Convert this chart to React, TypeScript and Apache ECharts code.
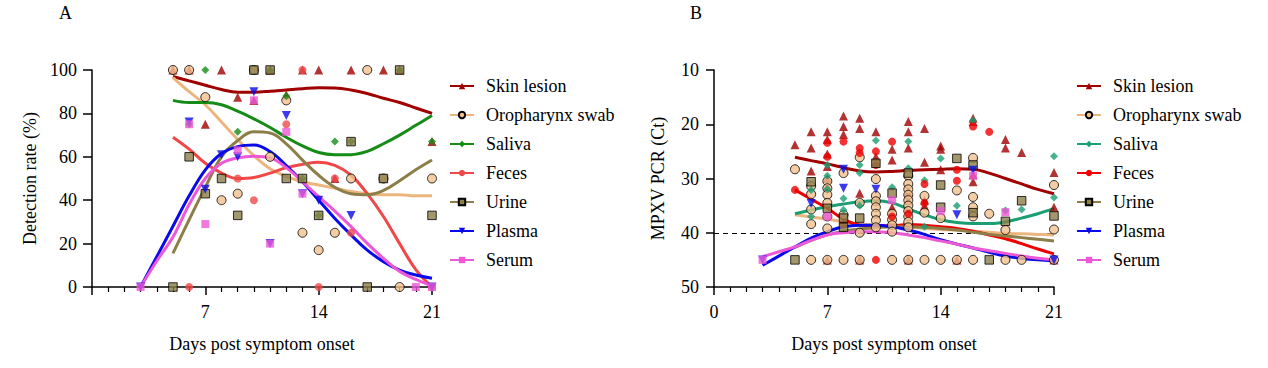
import React, { useEffect, useRef } from "react";
import * as echarts from "echarts";

const FONT = "Liberation Serif";

// ---------- shared ----------
const seriesNames = ["Skin lesion", "Oropharynx swab", "Saliva", "Feces", "Urine", "Plasma", "Serum"];
const days5 = [5, 6, 7, 8, 9, 10, 11, 12, 13, 14, 15, 16, 17, 18, 19, 20, 21];
const days3 = [3, 4, 5, 6, 7, 8, 9, 10, 11, 12, 13, 14, 15, 16, 17, 18, 19, 20, 21];

// ---------- Panel A: detection rate (%) ----------
const skinCurveA = [97, 95, 93, 91, 89.8, 89.8, 90.2, 90.8, 91.4, 91.8, 91.7, 90.8, 89.2, 87, 85, 82.5, 80];
const oroCurveA = [96.5, 90, 84, 76, 68, 60.5, 54.5, 51, 48.5, 47, 45.5, 44, 43, 42.5, 42.5, 42, 42];
const salivaCurveA = [86, 85, 85, 84, 81, 77.5, 73.5, 69, 65, 62, 61, 61, 62.5, 66, 70, 74.5, 79];
const fecesCurveA = [69, 63.5, 57, 52.5, 50, 50.5, 52.5, 55, 56.5, 57.5, 56, 51.5, 43, 32.5, 20, 8, 0];
const urineCurveA = [15.5, 31, 46, 60, 67.5, 71.5, 71, 66, 58.5, 51.5, 46, 43, 42.5, 44.5, 49, 54, 58.5];
const plasmaCurveA = [0, 14, 28, 42, 54, 61.5, 64.7, 65.4, 62.4, 56, 48.5, 40, 31.6, 24, 17, 11.7, 7.8, 5.5, 4];
const serumCurveA = [0, 12, 23, 38, 50, 57, 59.5, 60.3, 59.5, 55, 48.5, 41.6, 35, 27.8, 20.1, 13.2, 7.2, 3.5, 0.6];

const skinPtsA = [[5, 100], [6, 100], [7, 75], [8, 100], [9, 87.5], [10, 86], [11, 100], [12, 88.5], [13, 100], [14, 100], [15, 50], [16, 100], [18, 100], [19, 100], [21, 67]];
const oroPtsA = [[5, 100], [6, 100], [7, 87.5], [8, 40], [9, 43], [10, 100], [11, 60], [12, 86], [13, 25], [14, 17], [15, 25], [16, 50], [17, 100], [18, 50], [19, 0], [21, 50]];
const salivaPtsA = [[6, 75], [7, 100], [9, 71.5], [11, 100], [12, 88], [13, 50], [14, 33], [15, 67], [16, 67], [19, 100], [21, 67]];
const fecesPtsA = [[6, 0], [9, 50], [10, 40], [12, 75], [13, 100], [14, 0], [15, 50], [16, 25], [21, 0]];
const urinePtsA = [[5, 0], [6, 60], [7, 43], [8, 50], [9, 33], [10, 100], [11, 100], [12, 50], [13, 50], [14, 33], [16, 67], [17, 0], [18, 50], [19, 100], [21, 33]];
const plasmaPtsA = [[3, 0], [6, 76], [7, 45], [8, 61], [9, 60], [10, 90], [11, 20], [12, 79], [13, 43], [14, 40], [16, 33], [21, 0]];
const serumPtsA = [[3, 0], [6, 75], [7, 29], [9, 63], [10, 86], [11, 20], [12, 71.5], [13, 43], [20, 0], [21, 0]];

// ---------- Panel B: MPXV PCR (Ct) ----------
const skinCurveB = [26.1, 26.7, 27.3, 28, 28.6, 28.8, 28.7, 28.5, 28.4, 28.3, 28.2, 28.3, 29, 30, 31, 32, 32.8];
const oroCurveB = [36.7, 37.1, 37.5, 38, 38.4, 38.6, 38.8, 39, 39.2, 39.4, 39.5, 39.7, 39.9, 40.1, 40.2, 40.3, 40.4];
const salivaCurveB = [36.5, 35.8, 35.2, 34.7, 34.3, 34.1, 34.5, 35.6, 36.7, 37.6, 38.1, 38.3, 38.3, 38, 37.3, 36.5, 35.5];
const fecesCurveB = [32.1, 33.8, 35.5, 37.5, 38.6, 38.8, 38.7, 38.5, 38.6, 38.9, 39.2, 39.7, 40.4, 41.1, 42, 43, 43.9];
const urineCurveB = [42.7, 41.4, 40.4, 39.7, 39.3, 39.1, 38.9, 38.9, 39, 39.2, 39.5, 39.9, 40.3, 40.6, 40.9, 41.2, 41.5];
const plasmaCurveB = [46, 44.3, 42.6, 41, 39.8, 38.9, 38.6, 38.6, 38.9, 39.5, 40.3, 41.3, 42.1, 42.8, 43.6, 44.3, 44.7, 45, 45.2];
const serumCurveB = [44.4, 43.5, 42.6, 41.4, 40.4, 40, 39.8, 39.8, 40, 40.4, 40.9, 41.5, 42.1, 42.8, 43.3, 43.8, 44.3, 44.7, 45];

const skinPtsB = [[5, 23.8], [6, 21.4], [6, 24.4], [6, 28.6], [7, 21.4], [7, 22.8], [7, 25.5], [7, 27.8], [7, 30], [7, 31.5], [7, 45], [8, 18.5], [8, 20.4], [8, 21.9], [9, 18.9], [9, 20.8], [9, 32.7], [9, 45], [10, 21.4], [10, 26], [11, 24.6], [11, 26.6], [11, 35.3], [12, 19.5], [12, 21.4], [12, 24.4], [12, 32.5], [12, 34], [12, 45], [13, 20.8], [13, 27], [13, 34], [13, 35], [14, 24], [14, 24.6], [14, 28.4], [15, 45], [16, 18.9], [16, 19.5], [16, 29.3], [16, 30.6], [18, 22.8], [18, 24.4], [19, 25.2], [21, 28.9], [21, 35.3], [21, 45]];
const oroPtsB = [[5, 28.3], [6, 31.4], [6, 32.9], [6, 35.7], [6, 38.4], [6, 45], [7, 30.5], [7, 31.8], [7, 33], [7, 34.5], [7, 37], [7, 39.2], [7, 45], [8, 29], [8, 36.7], [8, 45], [9, 26.1], [9, 34.5], [9, 40], [9, 45], [10, 30.1], [10, 33.2], [10, 34.2], [10, 35.3], [10, 36.5], [10, 37.7], [10, 39], [11, 36.5], [11, 37.6], [11, 38.6], [11, 39.8], [11, 45], [12, 29.5], [12, 31], [12, 32], [12, 33], [12, 34], [12, 35], [12, 36], [12, 37], [12, 38], [12, 39], [12, 45], [13, 33.2], [13, 36.3], [13, 45], [14, 37.3], [14, 45], [15, 32.2], [15, 45], [16, 26.2], [16, 33.4], [16, 35.3], [16, 37], [16, 45], [17, 36.5], [18, 39.5], [18, 45], [19, 45], [21, 31.2], [21, 39.4], [21, 45]];
const salivaPtsB = [[6, 32.1], [6, 37], [7, 27.5], [7, 29.5], [7, 32], [8, 33.7], [8, 35.8], [9, 27.5], [9, 29], [9, 35], [10, 23], [10, 27.5], [11, 31.6], [12, 23.2], [12, 28.1], [13, 30.3], [13, 38.9], [14, 26.3], [15, 35], [16, 19.3], [18, 35.9], [19, 35.7], [21, 25.9], [21, 33.5]];
const fecesPtsB = [[5, 32.1], [7, 23.4], [7, 26], [8, 23.2], [8, 38.4], [9, 24.4], [9, 25.3], [10, 25], [10, 27.5], [10, 45], [11, 23.2], [11, 37], [12, 36.5], [13, 31], [13, 34.5], [15, 28.4], [15, 30.4], [16, 20.4], [17, 21.4]];
const urinePtsB = [[5, 45], [6, 30.6], [7, 35.5], [8, 37.3], [8, 39], [9, 37.3], [10, 27.2], [11, 32.7], [12, 29], [14, 31.2], [14, 35.3], [15, 26.3], [16, 27.5], [16, 36.3], [17, 45], [18, 37.9], [19, 34.1], [21, 36.9]];
const plasmaPtsB = [[3, 45], [6, 34.6], [8, 28.3], [8, 31.8], [10, 32], [15, 36.7], [16, 28.5], [21, 45]];
const serumPtsB = [[3, 45], [7, 37], [11, 34], [14, 36], [16, 29.5], [18, 36.2]];

const ctThreshold = 40;

// ---------- styles ----------
type Sty = { line: string; fill: string; symbol: string; size: number; border?: string; rotate?: number };
const stylesA: Sty[] = [
  { line: "#A00000", fill: "#A00000", symbol: "triangle", size: 9 },
  { line: "#EDB57E", fill: "#F2C08E", symbol: "circle", size: 9, border: "#000" },
  { line: "#158C15", fill: "#158C15", symbol: "diamond", size: 8 },
  { line: "#F04848", fill: "#F04848", symbol: "circle", size: 8 },
  { line: "#8C7E48", fill: "#8C7E48", symbol: "rect", size: 8.5, border: "#000" },
  { line: "#0A0AE8", fill: "#0A0AE8", symbol: "triangle", size: 9, rotate: 180 },
  { line: "#EC58D6", fill: "#EC58D6", symbol: "rect", size: 8 },
];
const stylesB: Sty[] = stylesA.map((s, i) =>
  i === 2 ? { ...s, line: "#1A9E72", fill: "#1A9E72" } : i === 3 ? { ...s, line: "#F00000", fill: "#F00000" } : s
);

function zip(days: number[], vals: number[]) {
  return vals.map((v, i) => [days[i], v]);
}

function buildOption(panel: "A" | "B") {
  const isA = panel === "A";
  const styles = isA ? stylesA : stylesB;
  const curves = isA
    ? [skinCurveA, oroCurveA, salivaCurveA, fecesCurveA, urineCurveA, plasmaCurveA, serumCurveA]
    : [skinCurveB, oroCurveB, salivaCurveB, fecesCurveB, urineCurveB, plasmaCurveB, serumCurveB];
  const pts = isA
    ? [skinPtsA, oroPtsA, salivaPtsA, fecesPtsA, urinePtsA, plasmaPtsA, serumPtsA]
    : [skinPtsB, oroPtsB, salivaPtsB, fecesPtsB, urinePtsB, plasmaPtsB, serumPtsB];

  const itemStyleOf = (s: Sty) => ({
    color: s.fill,
    borderColor: s.border || s.fill,
    borderWidth: s.border ? 1 : 0,
  });

  const lineSeries = seriesNames.map((name, i) => {
    const s = styles[i];
    const d = curves[i].length === days3.length ? days3 : days5;
    return {
      name,
      type: "line",
      data: zip(d, curves[i]),
      smooth: 0.4,
      showSymbol: false,
      symbol: s.symbol,
      symbolSize: s.size,
      symbolRotate: s.rotate || 0,
      lineStyle: { color: s.line, width: 3 },
      itemStyle: itemStyleOf(s),
      z: 2,
      silent: true,
    };
  });
  const scatterSeries = seriesNames.map((name, i) => {
    const s = styles[i];
    const base: any = {
      name,
      type: "scatter",
      data: pts[i],
      symbol: s.symbol,
      symbolSize: s.size,
      symbolRotate: s.rotate || 0,
      itemStyle: itemStyleOf(s),
      z: 3,
      silent: true,
    };
    if (!isA && i === 0) {
      base.markLine = {
        silent: true,
        symbol: "none",
        label: { show: false },
        lineStyle: { color: "#000", type: [5, 4], width: 1.2 },
        data: [{ yAxis: ctThreshold }],
        z: 1,
      };
    }
    return base;
  });

  const axisLine = { show: true, onZero: false, lineStyle: { color: "#000", width: 1.5 } };
  const labelStyle = { fontFamily: FONT, fontSize: 18, color: "#000" };

  return {
    animation: false,
    backgroundColor: "#fff",
    grid: { left: isA ? 92 : 80, top: 70, width: 340, height: 217 },
    graphic: [
      {
        type: "text",
        left: isA ? 59 : 56,
        top: 4,
        style: { text: panel, font: `18px "${FONT}"`, fill: "#000" },
      },
    ],
    legend: {
      orient: "vertical",
      left: isA ? 449 : 442,
      top: 77,
      padding: 0,
      itemWidth: 24,
      itemHeight: 8,
      itemGap: 11,
      selectedMode: false,
      data: seriesNames,
      textStyle: { fontFamily: FONT, fontSize: 18, color: "#000", lineHeight: 18, padding: [0, 0, 0, 7] },
    },
    xAxis: {
      type: "value",
      min: 0,
      max: 21,
      interval: 7,
      name: "Days post symptom onset",
      nameLocation: "middle",
      nameGap: 48,
      nameTextStyle: labelStyle,
      axisLine,
      axisTick: { show: true, length: 8, lineStyle: { color: "#000", width: 1.5 } },
      minorTick: { show: true, splitNumber: 7, length: 5, lineStyle: { color: "#000", width: 1.2 } },
      splitLine: { show: false },
      minorSplitLine: { show: false },
      axisLabel: {
        ...labelStyle,
        margin: 16,
        formatter: (v: number) => (isA && v === 0 ? "" : String(v)),
      },
    },
    yAxis: isA
      ? {
          type: "value",
          min: 0,
          max: 100,
          interval: 20,
          name: "Detection rate (%)",
          nameLocation: "middle",
          nameGap: 53,
          nameTextStyle: labelStyle,
          axisLine,
          axisTick: { show: true, length: 9, lineStyle: { color: "#000", width: 1.5 } },
          splitLine: { show: false },
          axisLabel: { ...labelStyle, margin: 15 },
        }
      : {
          type: "value",
          inverse: true,
          min: 10,
          max: 50,
          interval: 10,
          name: "MPXV PCR (Ct)",
          nameLocation: "middle",
          nameGap: 47,
          nameTextStyle: labelStyle,
          axisLine,
          axisTick: { show: true, length: 8, lineStyle: { color: "#000", width: 1.5 } },
          splitLine: { show: false },
          axisLabel: { ...labelStyle, margin: 15 },
        },
    series: [...lineSeries, ...scatterSeries],
  };
}

function Panel({ panel, left }: { panel: "A" | "B"; left: number }) {
  const ref = useRef<HTMLDivElement>(null);
  useEffect(() => {
    if (!ref.current) return;
    const chart = echarts.init(ref.current, undefined, { renderer: "svg" });
    chart.setOption(buildOption(panel) as any);
    return () => chart.dispose();
  }, [panel]);
  return <div ref={ref} style={{ position: "absolute", left, top: 0, width: 634, height: 368 }} />;
}

export default function App() {
  return (
    <div style={{ position: "absolute", left: 0, top: 0, width: 1268, height: 368, background: "#fff" }}>
      <Panel panel="A" left={0} />
      <Panel panel="B" left={634} />
    </div>
  );
}
